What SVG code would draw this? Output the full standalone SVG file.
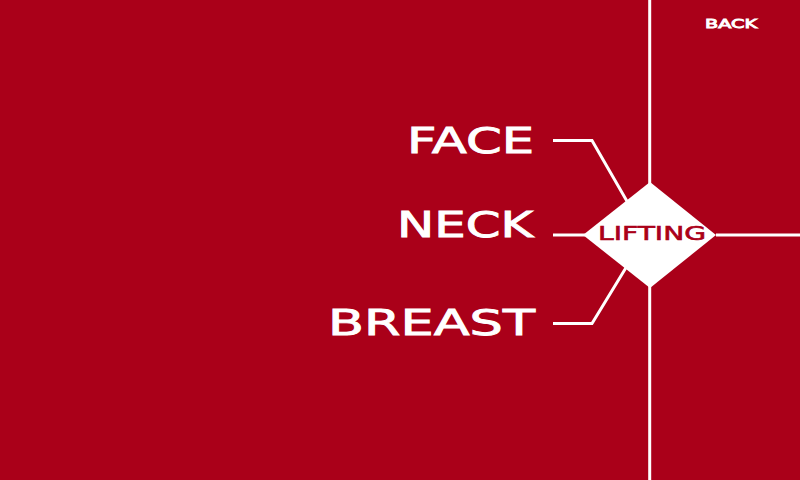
<svg xmlns="http://www.w3.org/2000/svg" width="800" height="480" viewBox="0 0 800 480">
<style>
.ln{stroke:#fff;stroke-width:3;fill:none}
.lbl{font-family:"DejaVu Sans","Liberation Sans",sans-serif;font-weight:normal;fill:#fff;stroke:#fff;stroke-width:0.9}
</style>
<rect x="0" y="0" width="800" height="480" fill="#AA0019"/>
<g id="connectors">
<line class="ln" x1="649.7" y1="0" x2="649.7" y2="480" stroke-width="2.7"/>
<line class="ln" x1="716" y1="235" x2="800" y2="235"/>
<polyline class="ln" points="553,140.5 592,140.5 628,203"/>
<line class="ln" x1="553" y1="235" x2="585" y2="235"/>
<polyline class="ln" points="553,323.5 592,323.5 627,266"/>
</g>
<g id="lifting">
<polygon points="650,182 716,235 650,288 583,235" fill="#fff"/>
<text x="598" y="240" font-family="DejaVu Sans,Liberation Sans,sans-serif" font-weight="normal" font-size="19" fill="#AA0019" stroke="#AA0019" stroke-width="0.6" textLength="108" lengthAdjust="spacingAndGlyphs">LIFTING</text>
</g>
<g id="face"><text class="lbl" x="407" y="153" font-size="36" textLength="127" lengthAdjust="spacingAndGlyphs">FACE</text></g>
<g id="neck"><text class="lbl" x="397" y="237" font-size="36" textLength="136" lengthAdjust="spacingAndGlyphs">NECK</text></g>
<g id="breast"><text class="lbl" x="328" y="335" font-size="36" textLength="207" lengthAdjust="spacingAndGlyphs">BREAST</text></g>
<g id="back"><text class="lbl" x="705" y="27.5" font-size="13" stroke-width="0.4" textLength="52" lengthAdjust="spacingAndGlyphs">BACK</text></g>
</svg>
